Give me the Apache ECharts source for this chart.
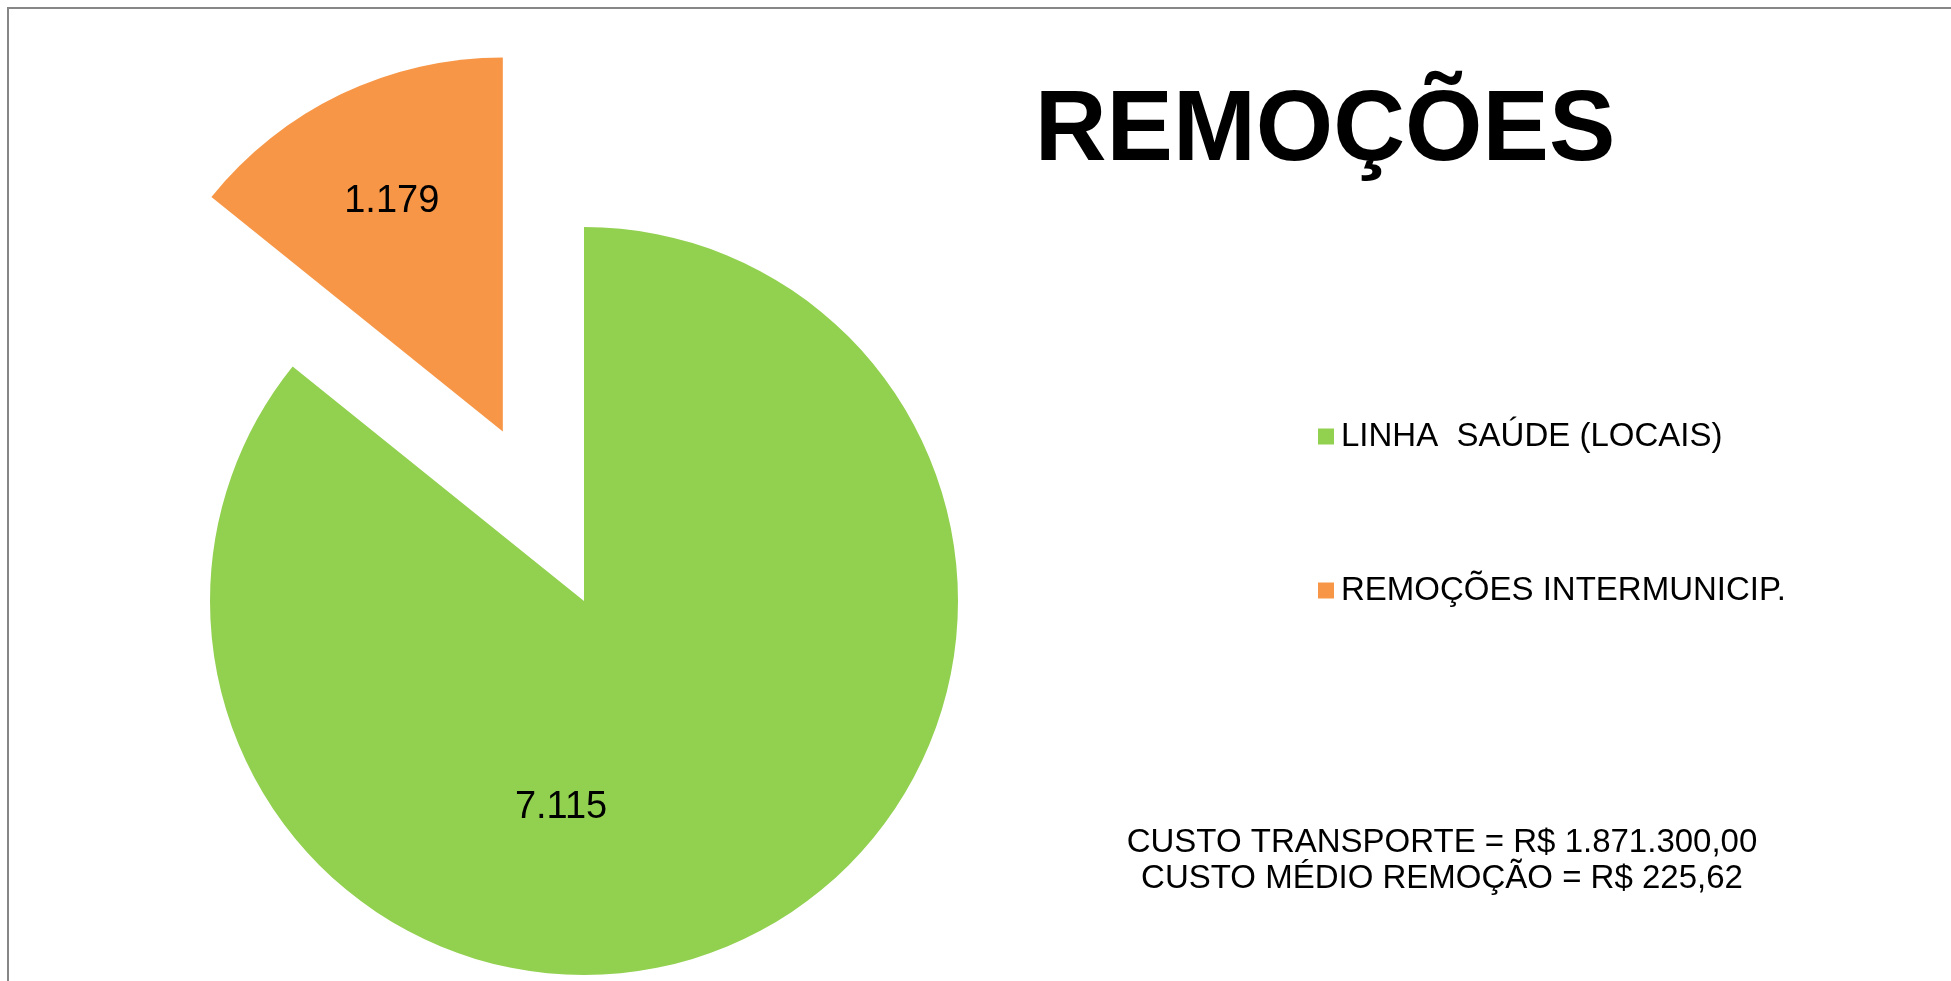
<!DOCTYPE html>
<html>
<head>
<meta charset="utf-8">
<script src="https://cdn.jsdelivr.net/npm/echarts@6/dist/echarts.min.js"></script>
<style>
html,body{margin:0;padding:0;background:#fff;}
#chart{width:1951px;height:981px;}
</style>
</head>
<body>
<div id="chart"></div>
<script>
const categories = ['LINHA  SAÚDE (LOCAIS)', 'REMOÇÕES INTERMUNICIP.'];
const values = [7115, 1179];
const colors = ['#92D050', '#F79646'];
const explodedIndex = 1;
const titleText = 'REMOÇÕES';
const noteLines = ['CUSTO TRANSPORTE = R$ 1.871.300,00', 'CUSTO MÉDIO REMOÇÃO = R$ 225,62'];

const FONT = '"Liberation Sans", Arial, sans-serif';
function fmt(v) { return String(v).replace(/\B(?=(\d{3})+(?!\d))/g, '.'); }

const labelShift = [[-105, 35], [-29, -59]];

const chart = echarts.init(document.getElementById('chart'), null, {renderer: 'canvas'});
chart.setOption({
  backgroundColor: '#ffffff',
  animation: false,
  textStyle: {fontFamily: FONT},
  legend: {
    orient: 'vertical',
    left: 1313,
    top: 415,
    itemWidth: 16,
    itemHeight: 16,
    itemGap: 121,
    icon: 'rect',
    selectedMode: false,
    textStyle: {fontFamily: FONT, fontSize: 33, lineHeight: 32, color: '#000', padding: [0, 0, 0, 2]},
    data: categories
  },
  series: [{
    type: 'pie',
    center: [584, 601],
    radius: 374,
    startAngle: 90,
    clockwise: true,
    selectedMode: 'single',
    selectedOffset: 188,
    avoidLabelOverlap: false,
    emphasis: {disabled: true},
    itemStyle: {borderWidth: 0},
    label: {
      show: true,
      position: 'inside',
      fontFamily: FONT,
      fontSize: 38,
      color: '#000',
      formatter: p => fmt(p.value)
    },
    labelLine: {show: false},
    labelLayout: function (params) {
      const s = labelShift[params.dataIndex];
      return {dx: s[0], dy: s[1]};
    },
    data: categories.map((c, i) => ({
      name: c,
      value: values[i],
      selected: i === explodedIndex,
      itemStyle: {color: colors[i]}
    }))
  }],
  graphic: [
    {
      type: 'rect',
      shape: {x: 8, y: 8, width: 2100, height: 1100},
      style: {fill: 'none', stroke: '#878787', lineWidth: 2},
      silent: true
    },
    {
      type: 'text',
      x: 1325, y: 133,
      style: {text: titleText, fontFamily: FONT, fontSize: 99.5, fontWeight: 'bold', fill: '#000', align: 'center', verticalAlign: 'middle'}
    },
    {
      type: 'text',
      x: 1442, y: 843,
      style: {text: noteLines[0], fontFamily: FONT, fontSize: 33, fill: '#000', align: 'center', verticalAlign: 'middle'}
    },
    {
      type: 'text',
      x: 1442, y: 879,
      style: {text: noteLines[1], fontFamily: FONT, fontSize: 33, fill: '#000', align: 'center', verticalAlign: 'middle'}
    }
  ]
});
</script>
</body>
</html>
